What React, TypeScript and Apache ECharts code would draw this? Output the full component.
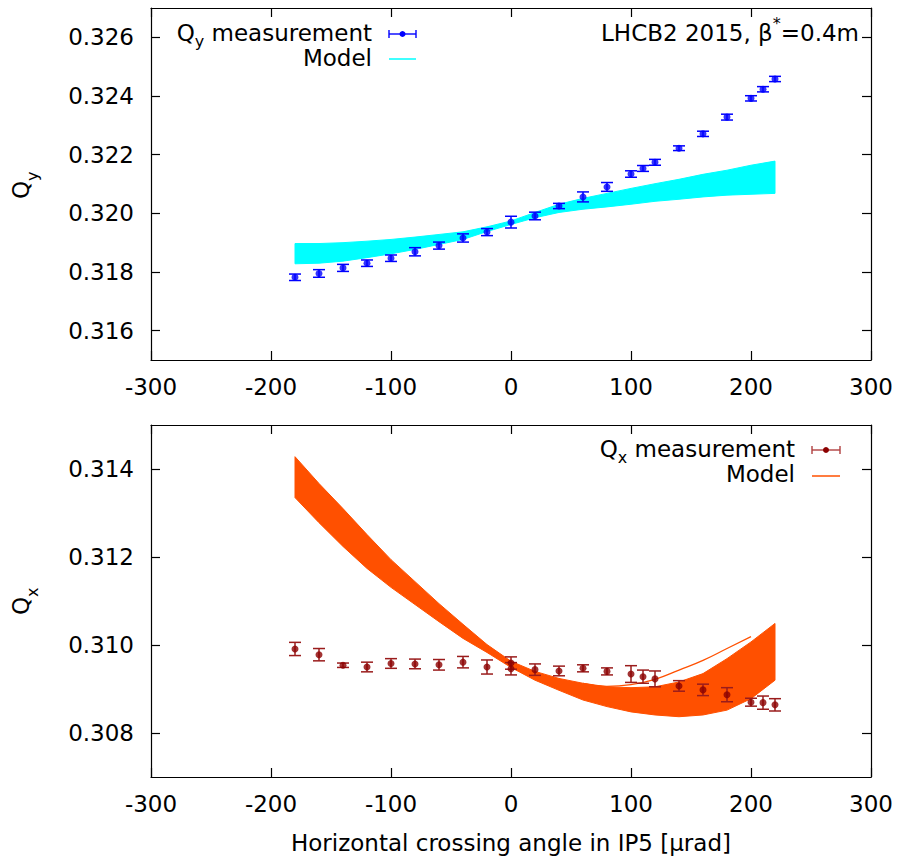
import React, { useEffect, useRef } from "react";
import * as echarts from "echarts";

const FONT = "DejaVu Sans";

// ---- tick values ----
const xTickValues = [-300, -200, -100, 0, 100, 200, 300];
const qyTickValues = [0.316, 0.318, 0.32, 0.322, 0.324, 0.326];
const qxTickValues = [0.308, 0.31, 0.312, 0.314];

// ---- Q_y measurement ----
const qyAngle = [-180, -160, -140, -120, -100, -80, -60, -40, -20, 0, 20, 40, 60, 80, 100, 110, 120, 140, 160, 180, 200, 210, 220];
const qyMeas = [0.31782, 0.31795, 0.31814, 0.3183, 0.31847, 0.31869, 0.3189, 0.31916, 0.31936, 0.3197, 0.31991, 0.32025, 0.32056, 0.3209, 0.32134, 0.32153, 0.32174, 0.32222, 0.32271, 0.32328, 0.32392, 0.32423, 0.32458];
const qyErr = [0.00011, 0.00013, 0.00012, 0.00011, 0.00011, 0.00014, 0.00012, 0.00014, 0.00012, 0.0002, 0.00013, 0.00009, 0.00017, 0.00015, 0.00011, 0.0001, 0.0001, 0.00008, 0.00009, 0.0001, 0.00009, 0.00009, 0.00009];

// ---- Q_y model family envelope ----
const qyModelX = [-180, -160, -140, -120, -100, -80, -60, -40, -20, 0, 20, 40, 60, 80, 100, 120, 140, 160, 180, 200, 220];
const qyModelUpper = [0.31897, 0.31897, 0.319, 0.31905, 0.31911, 0.31919, 0.31928, 0.31937, 0.31954, 0.31974, 0.32003, 0.32031, 0.32051, 0.32068, 0.32085, 0.32101, 0.32116, 0.32133, 0.32147, 0.32164, 0.32178];
const qyModelLower = [0.31828, 0.3183, 0.31837, 0.31849, 0.31862, 0.31877, 0.31894, 0.31911, 0.31938, 0.31962, 0.31985, 0.32003, 0.32014, 0.32022, 0.32031, 0.32041, 0.32048, 0.32056, 0.32062, 0.32065, 0.32068];

// ---- Q_x measurement ----
const qxAngle = [-180, -160, -140, -120, -100, -80, -60, -40, -20, 0, 0, 20, 40, 60, 80, 100, 110, 120, 140, 160, 180, 200, 210, 220];
const qxMeas = [0.30991, 0.30978, 0.30954, 0.3095, 0.30958, 0.30957, 0.30955, 0.30961, 0.3095, 0.30959, 0.30946, 0.30944, 0.30941, 0.30947, 0.3094, 0.30934, 0.30928, 0.30923, 0.30907, 0.30898, 0.30887, 0.3087, 0.30869, 0.30864];
const qxErr = [0.00015, 0.00014, 0.00005, 0.00011, 0.00011, 0.00011, 0.00012, 0.00013, 0.00016, 0.00014, 0.00014, 0.00013, 0.00011, 0.00008, 0.00008, 0.00019, 0.00015, 0.00018, 0.00012, 0.00013, 0.00016, 0.00009, 0.00015, 0.00014];

// ---- Q_x model family envelope ----
const qxModelX = [-180, -160, -140, -120, -100, -80, -60, -40, -20, 0, 20, 40, 60, 80, 100, 120, 140, 160, 180, 200, 220];
const qxModelUpper = [0.31428, 0.31367, 0.3131, 0.31251, 0.31194, 0.31144, 0.31094, 0.31047, 0.31001, 0.30963, 0.3094, 0.30924, 0.30913, 0.30905, 0.30903, 0.30905, 0.30916, 0.30935, 0.30969, 0.31007, 0.31049];
const qxModelLower = [0.31335, 0.31278, 0.31224, 0.31174, 0.31131, 0.31092, 0.31053, 0.31015, 0.30983, 0.30949, 0.3092, 0.30897, 0.30875, 0.3086, 0.30848, 0.30841, 0.30837, 0.30841, 0.30852, 0.30878, 0.3092];
// one model curve that ends at 200 and leaves the band
const qxModelShortX = [60, 80, 100, 120, 140, 160, 180, 200];
const qxModelShort = [0.30913, 0.30906, 0.3091, 0.30922, 0.30943, 0.30965, 0.30992, 0.31019];

const BLUE = "#0000ff";
const CYAN = "#00ffff";
const DARKRED = "#8b0000";
const ORANGE = "#ff5000";

let measureCtx: CanvasRenderingContext2D | null = null;
function measure(s: string, size: number): number {
  if (!measureCtx) measureCtx = document.createElement("canvas").getContext("2d");
  measureCtx!.font = `${size}px "${FONT}"`;
  return measureCtx!.measureText(s).width;
}

type Part = { t: string; s: number; dy?: number };
function richRow(rightX: number, cy: number, parts: Part[]) {
  const total = parts.reduce((a, p) => a + measure(p.t, p.s), 0);
  let x = rightX - total;
  return parts.map((p) => {
    const el = {
      type: "text",
      x,
      y: cy + (p.dy || 0),
      silent: true,
      style: {
        text: p.t,
        fontFamily: FONT,
        fontSize: p.s,
        fill: "#000",
        textAlign: "left",
        textVerticalAlign: "middle",
      },
    };
    x += measure(p.t, p.s);
    return el;
  });
}

function errSymbol(x1: number, x2: number, cy: number, bar: string, dot: string) {
  const st = { stroke: bar, lineWidth: 1.4 };
  return [
    { type: "line", silent: true, shape: { x1, y1: cy, x2, y2: cy }, style: st },
    { type: "line", silent: true, shape: { x1, y1: cy - 4, x2: x1, y2: cy + 4 }, style: st },
    { type: "line", silent: true, shape: { x1: x2, y1: cy - 4, x2, y2: cy + 4 }, style: st },
    { type: "circle", silent: true, shape: { cx: (x1 + x2) / 2, cy, r: 3 }, style: { fill: dot } },
  ];
}

function rotatedTitle(cx: number, cy: number, sub: string) {
  return {
    type: "group",
    x: cx,
    y: cy,
    rotation: Math.PI / 2,
    children: [
      { type: "text", x: 0, y: 0, style: { text: "Q", fontFamily: FONT, fontSize: 23, fill: "#000", textAlign: "center", textVerticalAlign: "middle" } },
      { type: "text", x: 9, y: 11, style: { text: sub, fontFamily: FONT, fontSize: 16, fill: "#000", textAlign: "left", textVerticalAlign: "middle" } },
    ],
  };
}

function errorBarItem(color: string, capHalf: number) {
  return (params: any, api: any) => {
    const x = api.value(0);
    const y = api.value(1);
    const e = api.value(2);
    const p1 = api.coord([x, y + e]);
    const p2 = api.coord([x, y - e]);
    const style = { stroke: color, lineWidth: 1.5 };
    return {
      type: "group",
      children: [
        { type: "line", shape: { x1: p1[0], y1: p1[1], x2: p2[0], y2: p2[1] }, style },
        { type: "line", shape: { x1: p1[0] - capHalf, y1: p1[1], x2: p1[0] + capHalf, y2: p1[1] }, style },
        { type: "line", shape: { x1: p2[0] - capHalf, y1: p2[1], x2: p2[0] + capHalf, y2: p2[1] }, style },
      ],
    };
  };
}

function bandItem(xs: number[], up: number[], lo: number[], color: string) {
  return (params: any, api: any) => {
    if (params.dataIndex !== 0) return null;
    const pts: number[][] = [];
    for (let i = 0; i < xs.length; i++) pts.push(api.coord([xs[i], up[i]]));
    for (let i = xs.length - 1; i >= 0; i--) pts.push(api.coord([xs[i], lo[i]]));
    return { type: "polygon", shape: { points: pts }, style: { fill: color, stroke: color, lineWidth: 1 } };
  };
}

function buildOption() {
  const axisLine = { show: true, onZero: false, lineStyle: { color: "#000", width: 1.2 } };
  const tick = { show: true, inside: true, length: 9, lineStyle: { color: "#000", width: 1.2 } };
  const lbl = { color: "#000", fontFamily: FONT, fontSize: 23 };
  const xAx = (grid: number, pos: string, labels: boolean) => ({
    type: "value",
    gridIndex: grid,
    position: pos,
    min: -300,
    max: 300,
    interval: 100,
    axisLine,
    axisTick: { ...tick, customValues: xTickValues },
    axisLabel: labels ? { ...lbl, margin: 15, customValues: xTickValues } : { show: false },
    splitLine: { show: false },
  });
  const yAx = (grid: number, pos: string, labels: boolean, min: number, max: number, ticks: number[]) => ({
    type: "value",
    gridIndex: grid,
    position: pos,
    min,
    max,
    axisLine,
    axisTick: { ...tick, customValues: ticks },
    axisLabel: labels
      ? { ...lbl, margin: 17, customValues: ticks, formatter: (v: number) => v.toFixed(3) }
      : { show: false },
    splitLine: { show: false },
  });

  const zip2 = (a: number[], b: number[]) => a.map((v, i) => [v, b[i]]);
  const zip3 = (a: number[], b: number[], c: number[]) => a.map((v, i) => [v, b[i], c[i]]);

  return {
    animation: false,
    backgroundColor: "#fff",
    grid: [
      { left: 151, right: 31, top: 8, height: 352 },
      { left: 151, right: 31, top: 425, height: 352 },
    ],
    xAxis: [xAx(0, "bottom", true), xAx(0, "top", false), xAx(1, "bottom", true), xAx(1, "top", false)],
    yAxis: [
      yAx(0, "left", true, 0.315, 0.327, qyTickValues),
      yAx(0, "right", false, 0.315, 0.327, qyTickValues),
      yAx(1, "left", true, 0.307, 0.315, qxTickValues),
      yAx(1, "right", false, 0.307, 0.315, qxTickValues),
    ],
    series: [
      {
        type: "custom",
        name: "Qy model",
        xAxisIndex: 0,
        yAxisIndex: 0,
        silent: true,
        z: 1,
        data: [[qyModelX[0], qyModelUpper[0]]],
        renderItem: bandItem(qyModelX, qyModelUpper, qyModelLower, CYAN),
      },
      {
        type: "custom",
        name: "Qy error",
        xAxisIndex: 0,
        yAxisIndex: 0,
        silent: true,
        z: 3,
        encode: { x: 0, y: 1 },
        data: zip3(qyAngle, qyMeas, qyErr),
        renderItem: errorBarItem(BLUE, 6),
      },
      {
        type: "scatter",
        name: "Qy measurement",
        xAxisIndex: 0,
        yAxisIndex: 0,
        silent: true,
        z: 4,
        symbol: "circle",
        symbolSize: 7,
        itemStyle: { color: BLUE },
        data: zip2(qyAngle, qyMeas),
      },
      {
        type: "custom",
        name: "Qx model",
        xAxisIndex: 2,
        yAxisIndex: 2,
        silent: true,
        z: 1,
        data: [[qxModelX[0], qxModelUpper[0]]],
        renderItem: bandItem(qxModelX, qxModelUpper, qxModelLower, ORANGE),
      },
      {
        type: "line",
        name: "Qx model short",
        xAxisIndex: 2,
        yAxisIndex: 2,
        silent: true,
        z: 2,
        smooth: true,
        showSymbol: false,
        lineStyle: { color: ORANGE, width: 1.3 },
        data: zip2(qxModelShortX, qxModelShort),
      },
      {
        type: "custom",
        name: "Qx error",
        xAxisIndex: 2,
        yAxisIndex: 2,
        silent: true,
        z: 3,
        encode: { x: 0, y: 1 },
        data: zip3(qxAngle, qxMeas, qxErr),
        renderItem: errorBarItem("#9a1c1c", 6),
      },
      {
        type: "scatter",
        name: "Qx measurement",
        xAxisIndex: 2,
        yAxisIndex: 2,
        silent: true,
        z: 4,
        symbol: "circle",
        symbolSize: 7,
        itemStyle: { color: DARKRED },
        data: zip2(qxAngle, qxMeas),
      },
    ],
    graphic: [
      // top legend
      ...richRow(372, 33, [
        { t: "Q", s: 23 },
        { t: "y", s: 16, dy: 8 },
        { t: " measurement", s: 23 },
      ]),
      ...errSymbol(389, 416, 34, BLUE, BLUE),
      ...richRow(372, 58, [{ t: "Model", s: 23 }]),
      { type: "line", silent: true, shape: { x1: 389, y1: 59, x2: 416, y2: 59 }, style: { stroke: CYAN, lineWidth: 1.5 } },
      // top right label
      ...richRow(859, 33, [
        { t: "LHCB2 2015, β", s: 23 },
        { t: "*", s: 16, dy: -10 },
        { t: "=0.4m", s: 23 },
      ]),
      // bottom legend
      ...richRow(795, 449, [
        { t: "Q", s: 23 },
        { t: "x", s: 16, dy: 8 },
        { t: " measurement", s: 23 },
      ]),
      ...errSymbol(812, 840, 450, "#b04040", DARKRED),
      ...richRow(795, 474, [{ t: "Model", s: 23 }]),
      { type: "line", silent: true, shape: { x1: 812, y1: 476, x2: 840, y2: 476 }, style: { stroke: ORANGE, lineWidth: 1.5 } },
      // axis titles
      rotatedTitle(21, 190, "y"),
      rotatedTitle(21, 606, "x"),
      {
        type: "text",
        x: 511,
        y: 843,
        silent: true,
        style: {
          text: "Horizontal crossing angle in IP5 [μrad]",
          fontFamily: FONT,
          fontSize: 23,
          fill: "#000",
          textAlign: "center",
          textVerticalAlign: "middle",
        },
      },
    ],
  };
}

export default function App() {
  const ref = useRef<HTMLDivElement>(null);
  useEffect(() => {
    const chart = echarts.init(ref.current!, null, { renderer: "svg" });
    chart.setOption(buildOption() as any);
    return () => chart.dispose();
  }, []);
  return (
    <div
      ref={ref}
      style={{ position: "fixed", left: 0, top: 0, width: 902, height: 862, background: "#fff" }}
    />
  );
}
